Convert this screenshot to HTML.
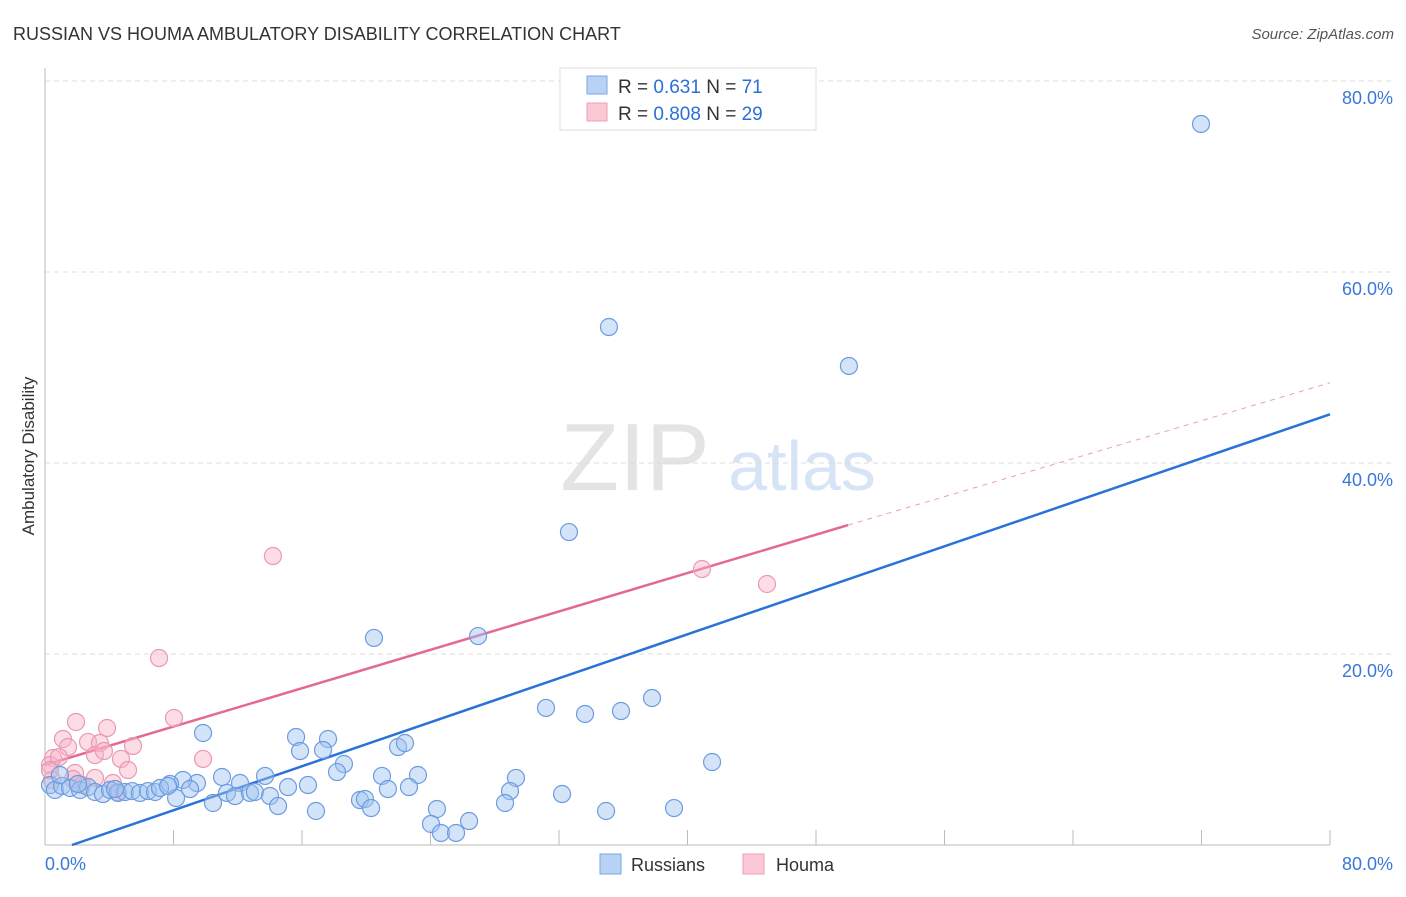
<!DOCTYPE html>
<html><head><meta charset="utf-8"><style>
body{margin:0;background:#fff;font-family:"Liberation Sans",sans-serif}
svg text{font-family:"Liberation Sans",sans-serif}
</style></head><body>
<svg id="chart" width="1406" height="892" xmlns="http://www.w3.org/2000/svg">
<text x="13" y="40" font-size="18" fill="#333">RUSSIAN VS HOUMA AMBULATORY DISABILITY CORRELATION CHART</text>
<text x="1394" y="39" font-size="15" fill="#555" text-anchor="end" font-style="italic">Source: ZipAtlas.com</text>
<text transform="translate(34,456) rotate(-90)" font-size="17" fill="#333" text-anchor="middle">Ambulatory Disability</text>
<g>
<text x="635" y="490" font-size="96" fill="#e4e4e4" font-family="Liberation Serif" text-anchor="middle">ZIP</text>
<text x="802" y="490" font-size="70" fill="#d6e4f6" text-anchor="middle">atlas</text></g>
<g id="grid"></g><g id="axes"></g><g id="lines"></g><g id="pts"></g>
<g>
<rect x="560" y="68" width="256" height="62" fill="#fff" stroke="#ddd"/>
<rect x="587" y="76" width="20" height="18" fill="#b8d2f4" stroke="#7aa6e4"/>
<rect x="587" y="103" width="20" height="18" fill="#fbc8d6" stroke="#eba0b6"/>
<text x="618" y="93" font-size="19" fill="#333">R = <tspan fill="#2a6fd6"> 0.631</tspan>   N = <tspan fill="#2a6fd6"> 71</tspan></text>
<text x="618" y="120" font-size="19" fill="#333">R = <tspan fill="#2a6fd6">0.808</tspan>   N = <tspan fill="#2a6fd6">29</tspan></text>
</g>
<g>
<rect x="600" y="854" width="21" height="20" fill="#b8d2f4" stroke="#7aa6e4"/>
<text x="631" y="871" font-size="18" fill="#333">Russians</text>
<rect x="743" y="854" width="21" height="20" fill="#fbc8d6" stroke="#eba0b6"/>
<text x="776" y="871" font-size="18" fill="#333">Houma</text>
</g>
</svg>
<script>
const xTicks=[0,10,20,30,40,50,60,70,80];
const yTicks=[20,40,60,80];
const yTickLabels=["20.0%","40.0%","60.0%","80.0%"];
const xEndLabels=["0.0%","80.0%"];
const russiansX=[9.84,15.63,15.88,17.62,17.31,18.61,18.18,11.02,12.14,13.70,9.46,8.59,7.78,15.13,16.37,11.33,11.83,12.76,13.07,14.01,8.16,10.46,14.51,16.87,19.61,0.31,0.62,1.06,1.56,2.18,2.68,3.11,3.61,4.05,4.54,4.98,5.42,5.91,6.41,6.85,7.16,7.66,9.03,0.93,2.05,4.36,21.98,22.41,20.98,21.35,23.22,22.66,19.92,20.30,24.40,24.03,24.65,25.59,26.40,29.32,28.95,28.64,31.19,33.62,35.86,37.79,41.53,32.19,34.93,39.16,71.97,35.11,50.05,32.62,20.48,26.96];
const russiansY=[11.73,11.31,9.84,11.10,9.95,8.48,7.64,7.12,6.49,7.23,6.49,6.81,6.39,6.07,6.28,5.45,5.13,5.45,5.55,5.13,4.92,4.40,4.08,3.56,4.71,6.28,5.76,6.18,5.97,5.76,6.07,5.55,5.34,5.76,5.45,5.55,5.65,5.45,5.65,5.55,5.97,6.18,5.86,7.33,6.39,5.86,10.26,10.68,7.23,5.86,7.33,6.07,4.82,3.87,3.77,2.20,1.26,1.26,2.51,7.02,5.65,4.40,14.35,13.72,14.03,15.39,8.69,5.34,3.56,3.87,75.50,54.24,50.16,32.77,21.68,21.88];
const houmaX=[7.10,1.93,3.86,8.03,1.12,1.43,2.68,3.42,3.11,3.67,5.48,4.73,5.17,9.84,0.50,0.31,0.87,1.87,3.11,4.23,2.30,4.48,0.44,1.74,14.19,40.90,44.95,0.31];
const houmaY=[19.58,12.88,12.25,13.30,11.10,10.26,10.79,10.68,9.42,9.84,10.37,9.01,7.85,9.01,9.11,8.38,9.21,7.54,7.02,6.49,6.28,5.55,6.81,6.91,30.26,28.90,27.33,7.85];
const blueTrend=[[1.68,0],[80,45.1]];
const pinkTrend=[[0,8.38],[50,33.5]];
const pinkDash=[[50,33.5],[80,48.4]];
const X0=45,X1=1330,Y0=845,PPY=9.55;
const sx=v=>X0+v*(X1-X0)/80, sy=v=>Y0-v*PPY;
const NS="http://www.w3.org/2000/svg";
function mk(tag,attrs,parent){const e=document.createElementNS(NS,tag);for(const k in attrs)e.setAttribute(k,attrs[k]);document.getElementById(parent).appendChild(e);return e;}
yTicks.forEach((t,i)=>{
 const g=mk('line',{x1:X0,x2:1395,y1:sy(t),y2:sy(t),stroke:'#ddd','stroke-dasharray':'5,4'},'grid');
 
 
 const l=mk('text',{x:1393,y:sy(t)+23,'font-size':18,fill:'#3a78d8','text-anchor':'end'},'grid');
 l.textContent=yTickLabels[i];
 
 
});
const ax=mk('line',{x1:X0,x2:X1,y1:Y0,y2:Y0,stroke:'#bbb'},'axes');


const ay=mk('line',{x1:X0,x2:X0,y1:68,y2:Y0,stroke:'#bbb'},'axes');


for(let v=0;v<=80;v+=8){const t=mk('line',{x1:sx(v),x2:sx(v),y1:Y0-15,y2:Y0,stroke:'#bbb'},'axes');
 
 }
[[0,'start',45],[80,'end',1393]].forEach((a,i)=>{const t=mk('text',{x:a[2],y:870,'font-size':18,fill:'#3a78d8','text-anchor':a[1]},'axes');t.textContent=xEndLabels[i];
 
 });
function line(p,c,dash,name){const l=mk('line',{x1:sx(p[0][0]),y1:sy(p[0][1]),x2:sx(p[1][0]),y2:sy(p[1][1]),stroke:c,'stroke-width':dash?1:2.5},'lines');if(dash)l.setAttribute('stroke-dasharray','5,5');
 
 }
function pts(xs,ys,f,s,name){xs.forEach((x,i)=>{const c=mk('circle',{cx:sx(x),cy:sy(ys[i]),r:8.5,fill:f,stroke:s,'stroke-width':1.2},'pts');
 
 });}
pts(houmaX,houmaY,'rgba(248,180,200,0.45)','#e89ab2','houma-point');
pts(russiansX,russiansY,'rgba(160,196,240,0.45)','#6c9ce0','russians-point');
line(pinkDash,'#e8a0b6',true,'houma-trend-extension');
line(pinkTrend,'#e46890',false,'houma-trend-line');
line(blueTrend,'#2a72d8',false,'russians-trend-line');
</script>
</body></html>
